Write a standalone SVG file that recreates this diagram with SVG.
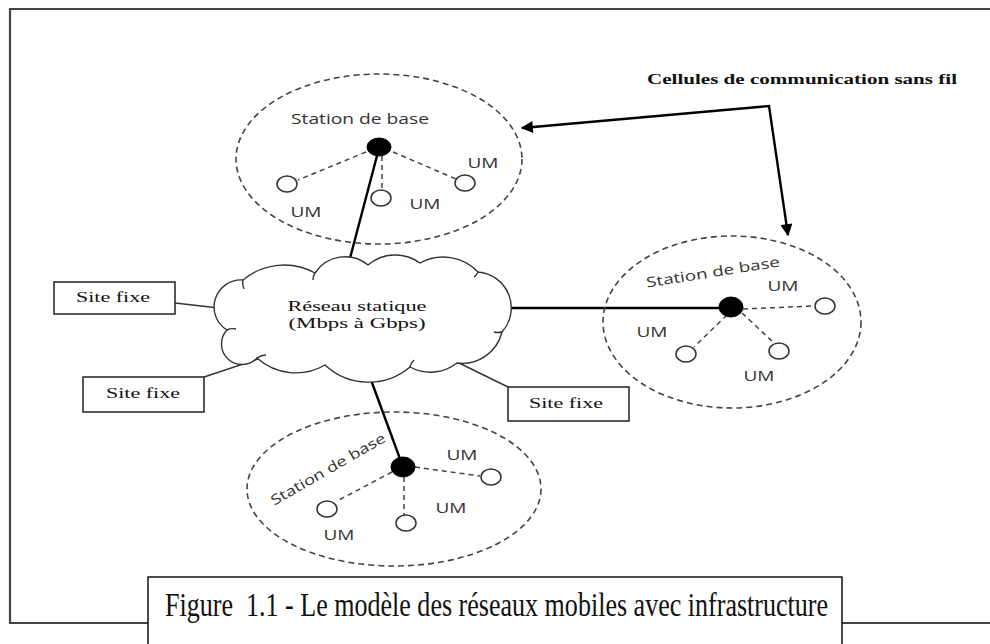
<svg xmlns="http://www.w3.org/2000/svg" width="990" height="644" viewBox="0 0 990 644">
  <defs>
    <marker id="arrow" viewBox="0 0 10 10" refX="9" refY="5" markerWidth="5.5" markerHeight="5" orient="auto-start-reverse" markerUnits="strokeWidth">
      <path d="M0,0 L10,5 L0,10 z" fill="#000"/>
    </marker>
  </defs>
  <style>
    .frame { fill: none; stroke: #444; stroke-width: 2.2; }
    .cell { fill: none; stroke: #444; stroke-width: 1.6; stroke-dasharray: 6 4; }
    .radio { fill: none; stroke: #444; stroke-width: 1.5; stroke-dasharray: 5 4; }
    .station { fill: #000; stroke: #000; stroke-width: 1; }
    .um { fill: #fff; stroke: #333; stroke-width: 1.5; }
    .backbone { fill: none; stroke: #000; stroke-width: 2.4; }
    .wire { fill: none; stroke: #333; stroke-width: 1.4; }
    .pointer { fill: none; stroke: #000; stroke-width: 2.4; }
    .box { fill: #fff; stroke: #222; stroke-width: 1.5; }
    .cloud { fill: #fff; stroke: #333; stroke-width: 1.4; }
    .sans { font-family: "Open Sans", "Noto Sans", "DejaVu Sans", sans-serif; fill: #333; font-size: 14px; }
    .serif { font-family: "Liberation Serif", "Times New Roman", serif; fill: #111; font-size: 15px; }
    .caption { font-family: "Liberation Serif", "Times New Roman", serif; fill: #111; font-size: 33px; }
  </style>

  <!-- page frame, open where the caption sits -->
  <path id="frame" class="frame" d="M148,623 H10 V9 H990 M842,623 H990"/>

  <!-- connectors -->
  <g id="connectors">
    <line class="backbone" x1="378" y1="152" x2="349" y2="262"/>
    <line class="backbone" x1="506" y1="308" x2="720" y2="308"/>
    <line class="backbone" x1="371" y1="380" x2="403" y2="467"/>
    <line class="wire" x1="175" y1="303" x2="219" y2="308"/>
    <line class="wire" x1="204" y1="377" x2="258" y2="359"/>
    <line class="wire" x1="457" y1="362" x2="508" y2="387"/>
    <polyline class="pointer" points="522,128 769,106 788,235" marker-start="url(#arrow)" marker-end="url(#arrow)"/>
  </g>

  <!-- static network cloud -->
  <g id="reseau">
    <path class="cloud" d="M227,330 A27,27 0 0 1 243,280 A64,64 0 0 1 315,273 A36,36 0 0 1 368,265 A42,42 0 0 1 420,263 A48,48 0 0 1 478,272 A36,36 0 0 1 502,332 A41,41 0 0 1 457,363 A43,43 0 0 1 410,367 A64,64 0 0 1 325,365 A58,58 0 0 1 257,358 A20.5,20.5 0 0 1 227,330 Z"/>
    <path class="cloud" fill="none" d="M243,280 q-1,4 1,9 M315,273 q-2,3 -2,7 M478,272 q-2,4 -4,5 M502,332 q-5,1 -8,0 M410,367 q1,-4 4,-7 M257,358 q4,-3 9,-3 M227,330 q4,-2 9,-1"/>
    <text class="serif" x="357" y="311" text-anchor="middle" textLength="139" lengthAdjust="spacingAndGlyphs">Réseau statique</text>
    <text class="serif" x="357" y="328" text-anchor="middle" textLength="137" lengthAdjust="spacingAndGlyphs">(Mbps à Gbps)</text>
  </g>

  <!-- fixed sites -->
  <g id="site1">
    <rect class="box" x="54" y="282" width="121" height="32"/>
    <text class="serif" x="113" y="302" text-anchor="middle" textLength="74" lengthAdjust="spacingAndGlyphs">Site fixe</text>
  </g>
  <g id="site2">
    <rect class="box" x="83" y="377" width="121" height="35"/>
    <text class="serif" x="143" y="398" text-anchor="middle" textLength="74" lengthAdjust="spacingAndGlyphs">Site fixe</text>
  </g>
  <g id="site3">
    <rect class="box" x="508" y="387" width="121" height="34"/>
    <text class="serif" x="566" y="408" text-anchor="middle" textLength="74" lengthAdjust="spacingAndGlyphs">Site fixe</text>
  </g>

  <!-- wireless cell, top -->
  <g id="cell-top">
    <ellipse class="cell" cx="379" cy="159" rx="143" ry="85"/>
    <line class="radio" x1="366" y1="152" x2="298" y2="180"/>
    <line class="radio" x1="382" y1="156" x2="382" y2="191"/>
    <line class="radio" x1="393" y1="152" x2="456" y2="179"/>
    <ellipse class="station" cx="379" cy="147" rx="12" ry="9"/>
    <ellipse class="um" cx="287" cy="184" rx="10" ry="8"/>
    <ellipse class="um" cx="381" cy="198" rx="10" ry="8"/>
    <ellipse class="um" cx="465" cy="183" rx="10" ry="8"/>
    <text class="sans" x="360" y="124" text-anchor="middle" textLength="138" lengthAdjust="spacingAndGlyphs">Station de base</text>
    <text class="sans" x="306" y="217" text-anchor="middle" textLength="31" lengthAdjust="spacingAndGlyphs">UM</text>
    <text class="sans" x="425" y="209" text-anchor="middle" textLength="31" lengthAdjust="spacingAndGlyphs">UM</text>
    <text class="sans" x="483" y="168" text-anchor="middle" textLength="31" lengthAdjust="spacingAndGlyphs">UM</text>
  </g>

  <!-- wireless cell, right -->
  <g id="cell-right">
    <ellipse class="cell" cx="732" cy="322" rx="129" ry="86"/>
    <line class="radio" x1="743" y1="309" x2="813" y2="306"/>
    <line class="radio" x1="727" y1="315" x2="694" y2="347"/>
    <line class="radio" x1="742" y1="313" x2="774" y2="343"/>
    <ellipse class="station" cx="731" cy="307" rx="12" ry="10"/>
    <ellipse class="um" cx="825" cy="306" rx="10" ry="8"/>
    <ellipse class="um" cx="686" cy="354" rx="10" ry="8"/>
    <ellipse class="um" cx="779" cy="351" rx="10" ry="8"/>
    <text class="sans" x="713" y="277" text-anchor="middle" textLength="135" lengthAdjust="spacingAndGlyphs" transform="rotate(-9 713 272)">Station de base</text>
    <text class="sans" x="783" y="291" text-anchor="middle" textLength="31" lengthAdjust="spacingAndGlyphs">UM</text>
    <text class="sans" x="652" y="337" text-anchor="middle" textLength="31" lengthAdjust="spacingAndGlyphs">UM</text>
    <text class="sans" x="759" y="381" text-anchor="middle" textLength="31" lengthAdjust="spacingAndGlyphs">UM</text>
  </g>

  <!-- wireless cell, bottom -->
  <g id="cell-bottom">
    <ellipse class="cell" cx="394" cy="489" rx="147" ry="77"/>
    <line class="radio" x1="415" y1="467" x2="480" y2="476"/>
    <line class="radio" x1="392" y1="472" x2="337" y2="501"/>
    <line class="radio" x1="404" y1="477" x2="404" y2="515"/>
    <ellipse class="station" cx="403" cy="467" rx="12" ry="10"/>
    <ellipse class="um" cx="327" cy="509" rx="10" ry="8"/>
    <ellipse class="um" cx="406" cy="523" rx="10" ry="8"/>
    <ellipse class="um" cx="491" cy="477" rx="10" ry="8"/>
    <text class="sans" x="328" y="474" text-anchor="middle" textLength="130" lengthAdjust="spacingAndGlyphs" transform="rotate(-30 328 469)">Station de base</text>
    <text class="sans" x="462" y="460" text-anchor="middle" textLength="31" lengthAdjust="spacingAndGlyphs">UM</text>
    <text class="sans" x="451" y="513" text-anchor="middle" textLength="31" lengthAdjust="spacingAndGlyphs">UM</text>
    <text class="sans" x="339" y="540" text-anchor="middle" textLength="31" lengthAdjust="spacingAndGlyphs">UM</text>
  </g>

  <g id="label-cellules">
    <text class="serif" x="647" y="84" font-weight="bold" textLength="310" lengthAdjust="spacingAndGlyphs">Cellules de communication sans fil</text>
  </g>

  <!-- caption box runs past the bottom edge -->
  <g id="caption">
    <path d="M148,644 V577 H842 V644" fill="#fff" stroke="#111" stroke-width="1.5"/>
    <text class="caption" transform="translate(165 616) scale(0.74 1)" x="0" y="0" textLength="896" lengthAdjust="spacingAndGlyphs" xml:space="preserve">Figure  1.1 - Le modèle des réseaux mobiles avec infrastructure</text>
  </g>
</svg>
